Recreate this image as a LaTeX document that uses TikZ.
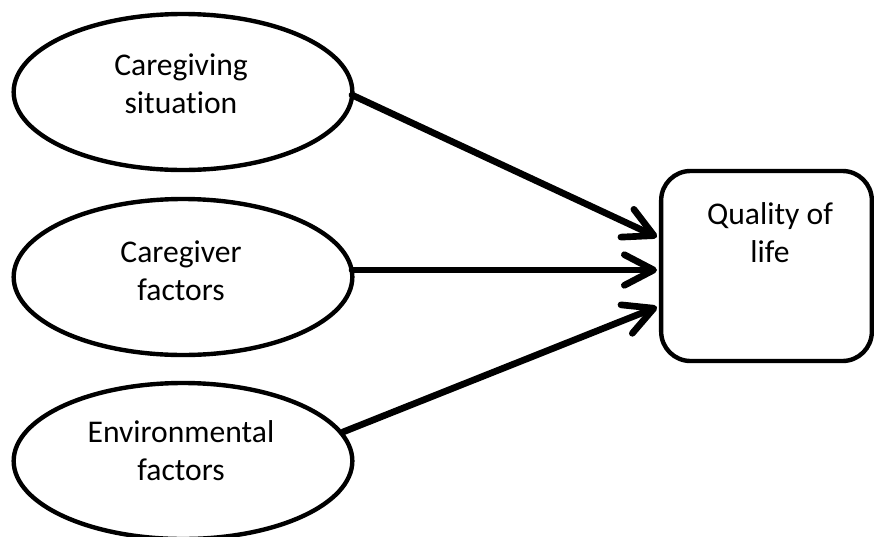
\documentclass[tikz,border=0pt]{standalone}
\usepackage{fontspec}
\setmainfont{Carlito}[Ligatures={NoCommon}]
\usetikzlibrary{arrows.meta,shapes.geometric}
\begin{document}
\begin{tikzpicture}[x=0.75pt,y=-0.75pt,
  oval/.style={draw, line width=3.3pt, ellipse, inner sep=0pt,
    minimum width=254pt, minimum height=117pt},
  qbox/.style={draw, line width=3.3pt, rounded corners=22pt, inner sep=0pt,
    minimum width=158pt, minimum height=142.5pt},
  lbl/.style={font=\fontsize{23.7pt}{28.5pt}\selectfont, align=center, inner sep=0pt},
  arr/.style={line width=5pt, line cap=round,
    -{Straight Barb[length=22pt, width=23pt, round]}}]
\useasboundingbox (0,0) rectangle (874,536);
\node[oval] (e1) at (183,92) {};
\node[oval] (e2) at (183,277) {};
\node[oval] (e3) at (183,461) {};
\node[qbox] (q) at (766.5,266) {};
\node[lbl] (t1) at (181,84) {Caregiving\\situation};
\node[lbl] (t2) at (181,271) {Caregiver\\factors};
\node[lbl] (t3) at (181,451) {Environmental\\factors};
\node[lbl] (tq) at (770,233) {Quality of\\life};
\coordinate (s1) at (352,95);
\coordinate (s2) at (352,270);
\coordinate (s3) at (343,432);
\coordinate (p1) at (657,237);
\coordinate (p2) at (657,270);
\coordinate (p3) at (657,307);
\draw[arr] (s1) -- (p1);
\draw[arr] (s2) -- (p2);
\draw[arr] (s3) -- (p3);
\end{tikzpicture}
\end{document}
